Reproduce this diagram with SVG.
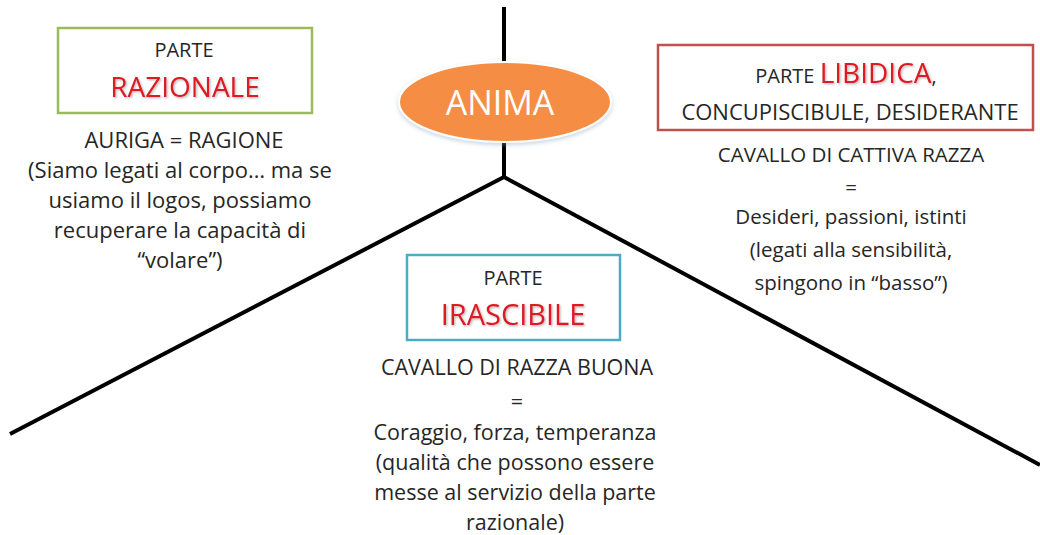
<svg xmlns="http://www.w3.org/2000/svg" width="1040" height="535" viewBox="0 0 1040 535">
<defs>
<filter id="sh" x="-10%" y="-20%" width="120%" height="150%">
<feDropShadow dx="1.2" dy="1.2" stdDeviation="0.8" flood-color="#000" flood-opacity="0.3"/>
</filter>
<filter id="esh" x="-10%" y="-20%" width="120%" height="150%">
<feDropShadow dx="0" dy="2" stdDeviation="2" flood-color="#8aa0c0" flood-opacity="0.45"/>
</filter>
</defs>
<style>
text{font-family:"Open Sans",Lato,"Liberation Sans",sans-serif;fill:#262626;text-anchor:middle}
.bl{font-size:22px}
.br{font-size:20.5px}
.bm{font-size:21.5px}
.h{font-size:20px}
.r{fill:#dc1a22;filter:url(#sh)}
.box{fill:#fff;stroke-width:2.5}
.ln{stroke:#000;stroke-width:4;fill:none;stroke-linecap:butt}
</style>
<rect width="1040" height="535" fill="#fff"/>
<g id="connectors">
<line class="ln" x1="504" y1="7" x2="504" y2="64"/>
<line class="ln" x1="504" y1="140" x2="504" y2="177"/>
<polyline class="ln" points="10,434 504,177 1040,465" stroke-linejoin="miter"/>
</g>
<g id="anima">
<ellipse cx="505" cy="102" rx="106" ry="40" fill="#f68d45" stroke="#fff" stroke-width="2" filter="url(#esh)"/>
<text x="500" y="115" style="font-size:34px;fill:#fff">ANIMA</text>
</g>
<g id="razionale">
<rect class="box" x="58" y="28" width="254" height="85" stroke="#9bbb59"/>
<text class="h" x="184" y="57">PARTE</text>
<text class="r" x="185" y="97" style="font-size:28px">RAZIONALE</text>
<text class="bl" x="184" y="148">AURIGA = RAGIONE</text>
<text class="bl" x="180" y="178">(Siamo legati al corpo… ma se</text>
<text class="bl" x="180" y="208">usiamo il logos, possiamo</text>
<text class="bl" x="180" y="238">recuperare la capacità di</text>
<text class="bl" x="180" y="268">“volare”)</text>
</g>
<g id="libidica">
<rect class="box" x="658" y="45" width="375" height="85" stroke="#c0504d"/>
<text x="846" y="83" style="font-size:20px">PARTE <tspan class="r" style="font-size:28px">LIBIDICA</tspan>,</text>
<text x="850" y="120" style="font-size:22px">CONCUPISCIBULE, DESIDERANTE</text>
<text class="br" x="851" y="162">CAVALLO DI CATTIVA RAZZA</text>
<text class="br" x="851" y="195">=</text>
<text class="br" x="851" y="224">Desideri, passioni, istinti</text>
<text class="br" x="851" y="257">(legati alla sensibilità,</text>
<text class="br" x="851" y="290">spingono in “basso”)</text>
</g>
<g id="irascibile">
<rect class="box" x="407" y="255" width="213" height="85" stroke="#4bacc6"/>
<text class="h" x="513" y="285">PARTE</text>
<text class="r" x="513" y="325" style="font-size:29px">IRASCIBILE</text>
<text class="bm" x="517" y="375">CAVALLO DI RAZZA BUONA</text>
<text class="bm" x="517" y="409">=</text>
<text class="bm" x="515" y="440">Coraggio, forza, temperanza</text>
<text class="bm" x="515" y="470">(qualità che possono essere</text>
<text class="bm" x="515" y="500">messe al servizio della parte</text>
<text class="bm" x="515" y="530">razionale)</text>
</g>
</svg>
